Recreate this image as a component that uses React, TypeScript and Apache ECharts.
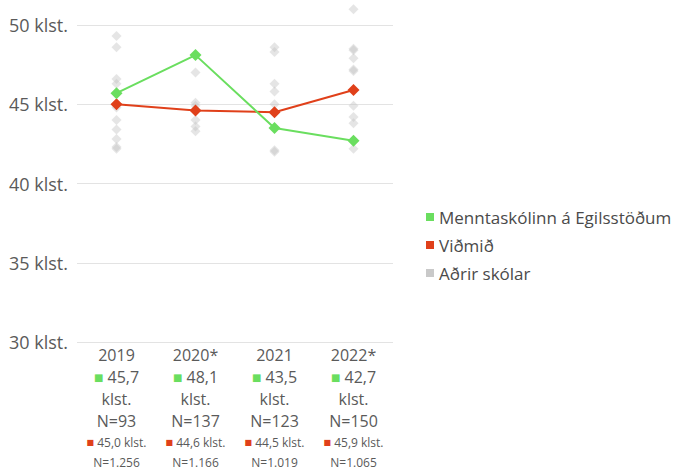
import React, { useEffect, useRef } from "react";
import * as echarts from "echarts";

const categories = ["2019", "2020*", "2021", "2022*"];
const schoolValues = [45.7, 48.1, 43.5, 42.7];
const schoolN = ["93", "137", "123", "150"];
const benchmarkValues = [45.0, 44.6, 44.5, 45.9];
const benchmarkN = ["1.256", "1.166", "1.019", "1.065"];
const others2019 = [49.3, 48.6, 46.6, 46.3, 44.8, 44.0, 43.4, 42.8, 42.3, 42.2];
const others2020 = [47.0, 45.1, 44.9, 44.6, 44.0, 43.6, 43.3];
const others2021 = [48.6, 48.3, 46.3, 45.8, 45.0, 44.5, 42.1, 42.0];
const others2022 = [51.0, 48.5, 48.4, 47.9, 47.2, 47.1, 44.9, 44.2, 43.8, 42.2];
const yTicks = [30, 35, 40, 45, 50];

const schoolName = "Menntaskólinn á Egilsstöðum";
const benchmarkName = "Viðmið";
const othersName = "Aðrir skólar";

const GREEN = "#6ade5f";
const RED = "#e0401a";
const FONT = "'Open Sans', sans-serif";
const TEXT = "#5a5a5a";

const fmt = (v: number) => v.toFixed(1).replace(".", ",");

export default function App() {
  const ref = useRef<HTMLDivElement>(null);
  useEffect(() => {
    if (!ref.current) return;
    const chart = echarts.init(ref.current, null, { renderer: "svg" });
    const othersAll = [others2019, others2020, others2021, others2022];
    const otherData: [string, number][] = [];
    othersAll.forEach((arr, i) => arr.forEach((v) => otherData.push([categories[i], v])));
    chart.setOption({
      animation: false,
      textStyle: { fontFamily: FONT },
      grid: { left: 77, right: 285, top: 25, bottom: 125, containLabel: false },
      legend: {
        orient: "vertical",
        left: 421,
        top: 203,
        icon: "rect",
        itemWidth: 8,
        itemHeight: 8,
        itemGap: 10,
        data: [
          { name: schoolName },
          { name: benchmarkName },
          { name: othersName, itemStyle: { color: "#bcbcbc" } },
        ],
        textStyle: { fontSize: 17, color: "#4a4a4a", fontFamily: FONT, lineHeight: 18 },
      },
      xAxis: {
        type: "category",
        data: categories,
        boundaryGap: true,
        axisLine: { show: false },
        axisTick: { show: false },
        axisLabel: {
          margin: 2,
          interval: 0,
          formatter: (value: string, idx: number) =>
            `{y|${value}}\n{gs|■}{b| ${fmt(schoolValues[idx])}}\n{b|klst.}\n{b|N=${schoolN[idx]}}\n{rs|■}{s| ${fmt(benchmarkValues[idx])} klst.}\n{s|N=${benchmarkN[idx]}}`,
          rich: {
            y: { fontSize: 16, lineHeight: 22, color: TEXT, fontFamily: FONT },
            b: { fontSize: 16, lineHeight: 22, color: TEXT, fontFamily: FONT },
            gs: { fontSize: 10, lineHeight: 22, color: GREEN, fontFamily: "DejaVu Sans" },
            rs: { fontSize: 8, lineHeight: 20, color: RED, fontFamily: "DejaVu Sans" },
            s: { fontSize: 12, lineHeight: 20, color: TEXT, fontFamily: FONT },
          },
        },
      },
      yAxis: {
        type: "value",
        min: yTicks[0],
        max: yTicks[yTicks.length - 1],
        interval: 5,
        axisLine: { show: false },
        axisTick: { show: false },
        splitLine: { lineStyle: { color: "#e3e3e3", width: 1 } },
        axisLabel: {
          margin: 9,
          fontSize: 18,
          color: TEXT,
          fontFamily: FONT,
          formatter: (v: number) => `${v} klst.`,
        },
      },
      series: [
        {
          name: othersName,
          type: "scatter",
          data: otherData,
          symbol: "diamond",
          symbolSize: 10,
          clip: false,
          itemStyle: { color: "rgba(195,195,195,0.55)" },
          z: 1,
        },
        {
          name: benchmarkName,
          type: "line",
          data: benchmarkValues,
          symbol: "diamond",
          symbolSize: 12,
          showSymbol: true,
          lineStyle: { color: RED, width: 2 },
          itemStyle: { color: RED },
          z: 3,
        },
        {
          name: schoolName,
          type: "line",
          data: schoolValues,
          symbol: "diamond",
          symbolSize: 12,
          showSymbol: true,
          lineStyle: { color: GREEN, width: 2 },
          itemStyle: { color: GREEN },
          z: 4,
        },
      ],
    });
    return () => chart.dispose();
  }, []);
  return <div ref={ref} style={{ width: 678, height: 468, position: "absolute", left: 0, top: 0 }} />;
}
